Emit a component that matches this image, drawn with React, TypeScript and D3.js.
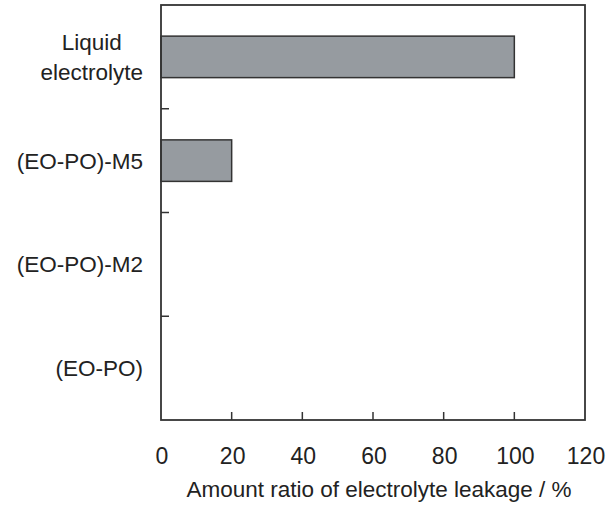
import React, { useEffect, useRef } from 'react';
import * as d3 from 'd3';

// categories listed top to bottom, each line of a label is its own entry
const categories = ['Liquid electrolyte', '(EO-PO)-M5', '(EO-PO)-M2', '(EO-PO)'];
const labelLines = [['Liquid', 'electrolyte'], ['(EO-PO)-M5'], ['(EO-PO)-M2'], ['(EO-PO)']];
const leakage = [100, 20, 0, 0];
const xTicks = [0, 20, 40, 60, 80, 100, 120];
const xTitle = 'Amount ratio of electrolyte leakage / %';

export default function App() {
  const ref = useRef<SVGSVGElement>(null);

  useEffect(() => {
    const node = ref.current;
    if (!node) return;
    const W = 615;
    const H = 509;
    const margin = { top: 5, right: 30, bottom: 89, left: 161 };
    const width = W - margin.left - margin.right;
    const height = H - margin.top - margin.bottom;
    const font = '"Liberation Sans", Arial, sans-serif';
    const ink = '#333';

    const svg = d3.select(node).attr('width', W).attr('height', H);
    const g = svg.append('g').attr('transform', `translate(${margin.left}, ${margin.top})`);

    const x = d3.scaleLinear().domain([0, 120]).range([0, width]);
    const y = d3
      .scaleBand<string>()
      .domain(categories)
      .range([0, height])
      .paddingInner(0.6)
      .paddingOuter(0.3);
    const step = y.step();

    // bars
    g.selectAll('rect.bar')
      .data(categories.map((c, i) => ({ c, v: leakage[i] })).filter((d) => d.v > 0))
      .enter()
      .append('rect')
      .attr('class', 'bar')
      .attr('x', x(0))
      .attr('y', (d) => y(d.c) as number)
      .attr('width', (d) => x(d.v) - x(0))
      .attr('height', y.bandwidth())
      .attr('fill', '#969ba0')
      .attr('stroke', ink)
      .attr('stroke-width', 1.5);

    // frame
    g.append('rect')
      .attr('x', 0)
      .attr('y', 0)
      .attr('width', width)
      .attr('height', height)
      .attr('fill', 'none')
      .attr('stroke', ink)
      .attr('stroke-width', 1.8);

    // x ticks pointing inward
    g.selectAll('line.xtick')
      .data(xTicks.slice(1, -1))
      .enter()
      .append('line')
      .attr('x1', (d) => x(d))
      .attr('x2', (d) => x(d))
      .attr('y1', height)
      .attr('y2', height - 8)
      .attr('stroke', ink)
      .attr('stroke-width', 1.5);

    g.selectAll('text.xlab')
      .data(xTicks)
      .enter()
      .append('text')
      .attr('x', (d) => x(d) + 1)
      .attr('y', height + 44)
      .attr('text-anchor', 'middle')
      .attr('font-family', font)
      .attr('font-size', 23)
      .attr('fill', '#222')
      .text((d) => d);

    g.append('text')
      .attr('x', width / 2 + 6)
      .attr('y', height + 77)
      .attr('text-anchor', 'middle')
      .attr('font-family', font)
      .attr('font-size', 22.5)
      .attr('fill', '#222')
      .text(xTitle);

    // y ticks between categories
    g.selectAll('line.ytick')
      .data(d3.range(1, categories.length))
      .enter()
      .append('line')
      .attr('x1', 0)
      .attr('x2', 8)
      .attr('y1', (i) => i * step)
      .attr('y2', (i) => i * step)
      .attr('stroke', ink)
      .attr('stroke-width', 1.5);

    // category labels, multi-line ones centred on their widest line
    const labelRight = -18;
    const lineGap = 30;
    categories.forEach((c, i) => {
      const lines = labelLines[i];
      const cy = (y(c) as number) + y.bandwidth() / 2;
      const t = g
        .append('text')
        .attr('font-family', font)
        .attr('font-size', 22.5)
        .attr('fill', '#222');
      const spans = lines.map((l, k) =>
        t
          .append('tspan')
          .attr('x', labelRight)
          .attr('y', cy + 8 + (k - (lines.length - 1) / 2) * lineGap)
          .text(l),
      );
      const widths = spans.map((s) => (s.node() as SVGTSpanElement).getComputedTextLength());
      const maxW = d3.max(widths) || 0;
      spans.forEach((s) => s.attr('x', labelRight - maxW / 2).attr('text-anchor', 'middle'));
    });

    return () => {
      d3.select(node).selectAll('*').remove();
    };
  });

  return (
    <svg
      ref={ref}
      style={{ position: 'absolute', left: 0, top: 0, display: 'block', background: '#fff' }}
    />
  );
}
